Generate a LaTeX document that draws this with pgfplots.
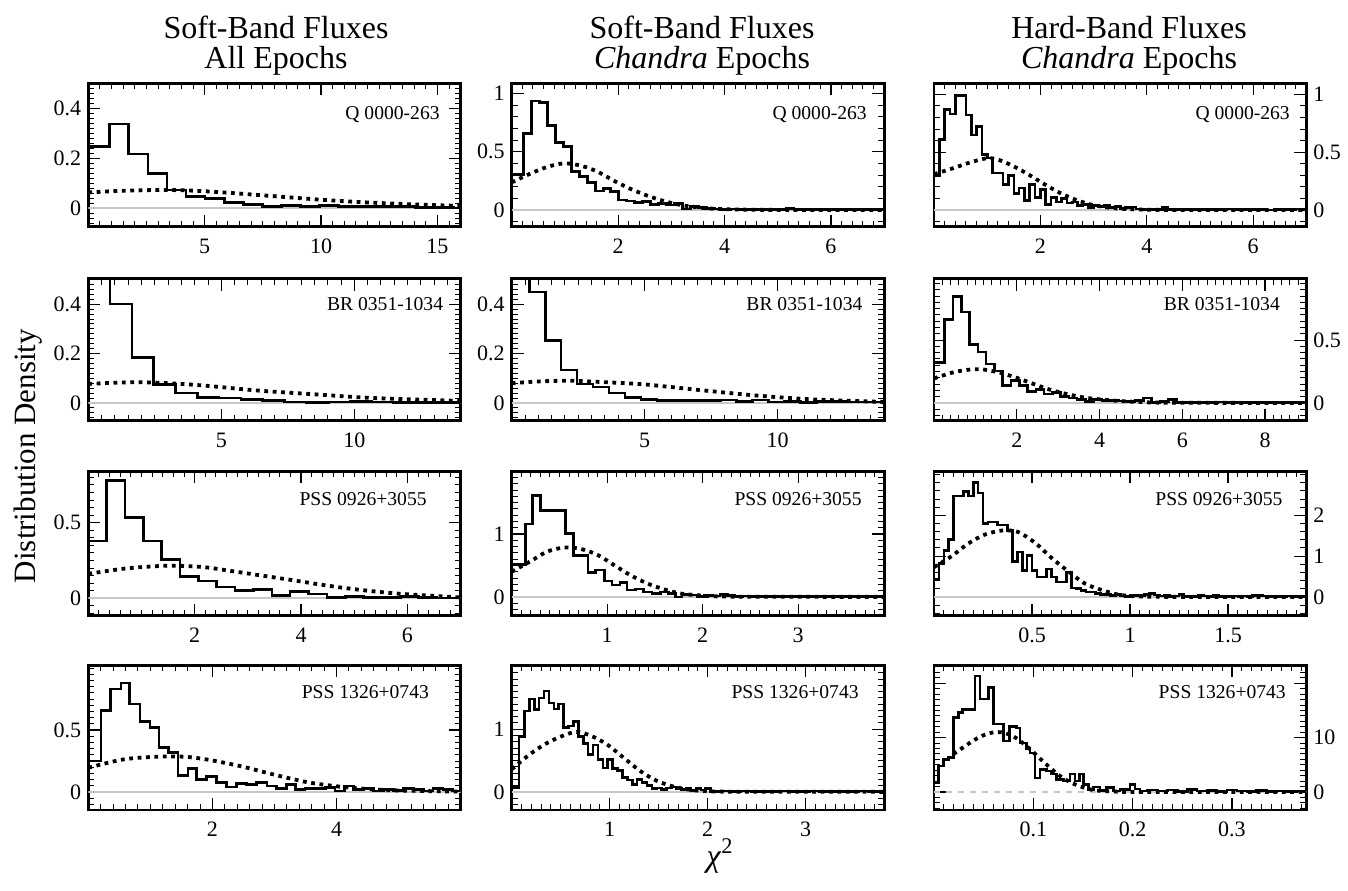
\documentclass[border=0pt]{standalone}
\usepackage{fontspec}
\setmainfont{Liberation Serif}
\usepackage{pgfplots}
\pgfplotsset{compat=1.18}
\pgfplotsset{
  panel/.style={scale only axis, width=186.2pt, anchor=north west,
    tick align=inside, major tick length=6pt, minor tick length=3pt,
    xtick pos=both, ytick pos=both,
    axis line style={line width=1.4pt},
    every tick/.style={black, line width=0.6pt},
    every minor tick/.style={black, line width=0.5pt},
    /pgf/number format/assume math mode=true,
    /pgf/number format/fixed,
    ticklabel style={font=\fontsize{11}{12}\selectfont},
    xticklabel style={yshift=-2.5pt},
  },
  hist/.style={const plot, black, line width=1.3pt, line join=miter, mark=none},
  model/.style={black, line width=1.9pt, dash pattern=on 1.9pt off 2.3pt, smooth, mark=none},
  zero/.style={black!22, line width=1pt, mark=none},
}
\tikzset{lab/.style={font=\fontsize{9.8}{11}\selectfont}}
\begin{document}
\begin{tikzpicture}
\useasboundingbox (0pt,0pt) rectangle (674pt,-445pt);
\def\tfont{\fontsize{16}{18}\selectfont}
\tikzset{ttl/.style={font=\tfont, anchor=base, inner sep=0pt}}
\node[ttl] at (138pt,-19pt) {Soft-Band Fluxes};
\node[ttl] at (138pt,-34pt) {All Epochs};
\node[ttl] at (351pt,-19pt) {Soft-Band Fluxes};
\node[ttl] at (351pt,-34pt) {\textit{Chandra} Epochs};
\node[ttl] at (564.5pt,-19pt) {Hard-Band Fluxes};
\node[ttl] at (564.5pt,-34pt) {\textit{Chandra} Epochs};
\node[font=\fontsize{15.5}{17}\selectfont, rotate=90, inner sep=0pt] at (14pt,-228pt) {Distribution Density};
\node[font=\tfont, inner sep=0pt] at (360pt,-428pt) {\textit{χ}\textsuperscript{2}};

% ---------------- Row 1 ----------------
\begin{axis}[panel, at={(44.15pt,-41.65pt)}, height=71.7pt,
  xmin=0, xmax=16, ymin=-0.074, ymax=0.5,
  xtick={0,5,10,15}, xticklabels={,5,10,15}, minor xtick={0,0.5,...,16},
  ytick={0,0.2,0.4}, minor ytick={-0.06,-0.04,...,0.5}]
\addplot[zero] coordinates {(0,0) (16,0)};
\addplot[hist] coordinates {(0,0.247) (0.92,0.337) (1.74,0.217) (2.56,0.14) (3.38,0.073) (4.2,0.047) (5.02,0.04) (5.84,0.022) (6.66,0.016) (7.48,0.007) (8.3,0.011) (9.12,0.008) (9.94,0.01) (10.76,0.007) (11.58,0.008) (12.4,0.006) (13.22,0.006) (14.04,0.004) (14.86,0.003) (15.68,0.001) (16,0.001)};
\addplot[model] coordinates {(0,0.063) (1,0.068) (2,0.071) (3,0.073) (4,0.072) (5,0.068) (6,0.062) (7,0.055) (8,0.048) (9,0.041) (10,0.034) (11,0.028) (12,0.023) (13,0.019) (14,0.015) (15,0.012) (16,0.009)};
\node[lab] at (rel axis cs:0.817,0.784) {Q 0000-263};
\end{axis}

\begin{axis}[panel, at={(255.85pt,-41.65pt)}, height=71.7pt,
  xmin=0, xmax=7, ymin=-0.143, ymax=1.086,
  xtick={0,2,4,6}, xticklabels={,2,4,6}, minor xtick={0,0.2,...,7},
  ytick={0,0.5,1}, minor ytick={-0.1,0,...,1.1}]
\addplot[zero] coordinates {(0,0) (7,0)};
\addplot[hist] coordinates {(0,0.306) (0.22,0.657) (0.37,0.934) (0.52,0.92) (0.67,0.723) (0.82,0.577) (0.97,0.543) (1.12,0.329) (1.27,0.286) (1.42,0.237) (1.57,0.163) (1.72,0.186) (1.86,0.157) (2.01,0.086) (2.16,0.077) (2.31,0.066) (2.46,0.071) (2.61,0.049) (2.76,0.057) (2.91,0.043) (3.06,0.057) (3.21,0.009) (3.36,0.029) (3.51,0.02) (3.66,0.014) (3.81,0.01) (3.96,0.006) (4.11,0.008) (4.26,0.005) (4.41,0.004) (4.56,0.007) (4.71,0.003) (4.86,0.004) (5.01,0.006) (5.16,0.011) (5.31,0.004) (5.46,0.003) (5.61,0.005) (5.76,0.002) (5.91,0.004) (6.06,0.003) (6.21,0.005) (6.36,0.002) (6.51,0.003) (6.66,0.004) (6.81,0.002) (7,0.002)};
\addplot[model] coordinates {(0,0.237) (0.36,0.314) (0.68,0.371) (0.99,0.40) (1.3,0.38) (1.61,0.329) (1.93,0.249) (2.24,0.18) (2.55,0.123) (2.86,0.077) (3.18,0.043) (3.49,0.023) (3.8,0.011) (4.42,0.003) (5,0.001) (7,0)};
\node[lab] at (rel axis cs:0.827,0.784) {Q 0000-263};
\end{axis}

\begin{axis}[panel, at={(467pt,-41.65pt)}, height=71.7pt, yticklabel pos=right,
  xmin=0, xmax=7, ymin=-0.144, ymax=1.095,
  xtick={0,2,4,6}, xticklabels={,2,4,6}, minor xtick={0,0.2,...,7},
  ytick={0,0.5,1}, minor ytick={-0.1,0,...,1.1}]
\addplot[zero] coordinates {(0,0) (7,0)};
\addplot[hist] coordinates {(0,0.30) (0.1,0.61) (0.2,0.87) (0.3,0.83) (0.4,0.99) (0.5,0.99) (0.6,0.82) (0.7,0.65) (0.8,0.72) (0.9,0.48) (1.0,0.45) (1.1,0.32) (1.2,0.32) (1.3,0.22) (1.4,0.30) (1.5,0.145) (1.6,0.19) (1.7,0.08) (1.8,0.22) (1.9,0.11) (2.0,0.18) (2.1,0.05) (2.2,0.11) (2.3,0.07) (2.4,0.10) (2.5,0.06) (2.6,0.07) (2.7,0.04) (2.8,0.05) (2.9,0.02) (3.0,0.04) (3.1,0.03) (3.2,0.04) (3.3,0.02) (3.4,0.03) (3.5,0.01) (3.6,0.02) (3.7,0.025) (3.8,0.01) (3.9,0.005) (4.0,0.004) (4.1,0.006) (4.2,0.003) (4.3,0.02) (4.4,0.004) (4.6,0.006) (4.8,0.003) (5.0,0.005) (5.2,0.003) (5.4,0.004) (5.5,0.01) (5.6,0.004) (5.8,0.003) (6.0,0.005) (6.2,0.002) (6.4,0.004) (6.6,0.003) (6.8,0.01) (6.9,0.003) (7,0.003)};
\addplot[model] coordinates {(0,0.31) (0.35,0.36) (0.67,0.41) (0.98,0.447) (1.17,0.44) (1.42,0.395) (1.74,0.317) (2.05,0.23) (2.36,0.15) (2.68,0.086) (2.99,0.043) (3.3,0.02) (3.6,0.009) (4.1,0.002) (5,0) (7,0)};
\node[lab] at (rel axis cs:0.829,0.784) {Q 0000-263};
\end{axis}

% ---------------- Row 2 ----------------
\begin{axis}[panel, at={(44.15pt,-139.25pt)}, height=71.1pt,
  xmin=0, xmax=14, ymin=-0.072, ymax=0.504,
  xtick={0,5,10}, xticklabels={,5,10}, minor xtick={0,0.5,...,14},
  ytick={0,0.2,0.4}, minor ytick={-0.06,-0.04,...,0.5}]
\addplot[zero] coordinates {(0,0) (14,0)};
\addplot[hist] coordinates {(0,0.8) (0.82,0.40) (1.64,0.184) (2.46,0.075) (3.28,0.04) (4.1,0.022) (4.92,0.02) (5.74,0.015) (6.56,0.01) (7.38,0.004) (8.2,0.003) (9.02,0.004) (9.84,0.006) (10.66,0.004) (11.48,0.002) (12.3,0.002) (13.12,0.003) (14,0.003)};
\addplot[model] coordinates {(0,0.077) (1,0.082) (1.9,0.084) (3,0.08) (4.4,0.07) (6.4,0.05) (8.5,0.035) (10.5,0.021) (12.6,0.013) (14,0.008)};
\node[lab] at (rel axis cs:0.797,0.823) {BR 0351-1034};
\end{axis}

\begin{axis}[panel, at={(255.85pt,-139.25pt)}, height=71.1pt,
  xmin=0, xmax=14, ymin=-0.072, ymax=0.504,
  xtick={0,5,10}, xticklabels={,5,10}, minor xtick={0,0.5,...,14},
  ytick={0,0.2,0.4}, minor ytick={-0.06,-0.04,...,0.5}]
\addplot[zero] coordinates {(0,0) (14,0)};
\addplot[hist] coordinates {(0,0.8) (0.66,0.45) (1.26,0.253) (1.86,0.133) (2.46,0.077) (3.06,0.065) (3.66,0.04) (4.26,0.021) (4.86,0.013) (5.46,0.01) (6.06,0.009) (6.66,0.01) (7.26,0.011) (7.86,0.012) (8.46,0.005) (9.06,0.012) (9.66,0.004) (10.26,0.006) (10.86,0.002) (11.46,0.006) (12.06,0.007) (12.66,0.004) (13.26,0.004) (14,0.004)};
\addplot[model] coordinates {(0,0.08) (1,0.087) (2.2,0.09) (3.5,0.084) (5,0.075) (7,0.053) (9.1,0.031) (11.2,0.015) (14,0.004)};
\node[lab] at (rel axis cs:0.786,0.823) {BR 0351-1034};
\end{axis}

\begin{axis}[panel, at={(467pt,-139.25pt)}, height=71.1pt, yticklabel pos=right,
  xmin=0, xmax=9, ymin=-0.141, ymax=0.99,
  xtick={0,2,4,6,8}, xticklabels={,2,4,6,8}, minor xtick={0,0.2,...,9},
  ytick={0,0.5}, minor ytick={-0.1,-0.05,...,0.95}]
\addplot[zero] coordinates {(0,0) (9,0)};
\addplot[hist] coordinates {(0,0.324) (0.26,0.665) (0.46,0.846) (0.66,0.723) (0.86,0.465) (1.06,0.404) (1.26,0.311) (1.46,0.253) (1.66,0.141) (1.86,0.178) (2.06,0.141) (2.26,0.093) (2.46,0.106) (2.66,0.072) (2.86,0.085) (3.06,0.053) (3.26,0.04) (3.46,0.027) (3.66,0.013) (3.86,0.027) (4.06,0.02) (4.26,0.02) (4.46,0.016) (4.66,0.013) (4.86,0.02) (5.06,0.04) (5.26,0.005) (5.46,0.01) (5.66,0.03) (5.86,0.004) (6.06,0.003) (6.26,0.004) (6.46,0.003) (6.66,0.004) (6.86,0.008) (7.06,0.003) (7.26,0.004) (7.46,0.002) (7.66,0.003) (7.86,0.002) (8.06,0.003) (8.26,0.002) (8.46,0.003) (8.66,0.002) (9,0.002)};
\addplot[model] coordinates {(0,0.195) (0.48,0.245) (0.88,0.266) (1.2,0.266) (1.6,0.24) (2.0,0.2) (2.4,0.152) (2.8,0.106) (3.2,0.072) (3.6,0.045) (4.0,0.029) (4.48,0.016) (4.96,0.008) (5.7,0.002) (9,0)};
\node[lab] at (rel axis cs:0.773,0.823) {BR 0351-1034};
\end{axis}

% ---------------- Row 3 ----------------
\begin{axis}[panel, at={(44.15pt,-235.65pt)}, height=72.2pt,
  xmin=0, xmax=7, ymin=-0.115, ymax=0.84,
  xtick={0,2,4,6}, xticklabels={,2,4,6}, minor xtick={0,0.2,...,7},
  ytick={0,0.5}, minor ytick={-0.1,-0.05,...,0.85}]
\addplot[zero] coordinates {(0,0) (7,0)};
\addplot[hist] coordinates {(0,0.379) (0.345,0.779) (0.69,0.535) (1.035,0.379) (1.38,0.255) (1.725,0.143) (2.07,0.115) (2.415,0.076) (2.76,0.05) (3.105,0.06) (3.45,0.017) (3.795,0.045) (4.14,0.028) (4.485,0.006) (4.83,0.011) (5.175,0.004) (5.52,0.006) (5.865,0.011) (6.21,0.006) (6.555,0.002) (7,0.002)};
\addplot[model] coordinates {(0,0.162) (0.64,0.195) (1.15,0.21) (1.6,0.216) (2.18,0.206) (2.7,0.18) (3.73,0.126) (4.76,0.071) (5.79,0.032) (7,0.006)};
\node[lab] at (rel axis cs:0.738,0.81) {PSS 0926+3055};
\end{axis}

\begin{axis}[panel, at={(255.85pt,-235.65pt)}, height=72.2pt,
  xmin=0, xmax=3.9, ymin=-0.30, ymax=2.0,
  xtick={0,1,2,3}, xticklabels={,1,2,3}, minor xtick={0,0.1,...,3.9},
  ytick={0,1}, minor ytick={-0.2,-0.1,...,2}]
\addplot[zero] coordinates {(0,0) (3.9,0)};
\addplot[hist] coordinates {(0,0.52) (0.147,1.16) (0.217,1.61) (0.304,1.38) (0.565,1.01) (0.645,0.658) (0.798,0.39) (0.878,0.428) (0.972,0.25) (1.052,0.187) (1.132,0.23) (1.208,0.107) (1.295,0.123) (1.382,0.08) (1.47,0.053) (1.556,0.08) (1.643,0.053) (1.713,0.0) (1.782,0.037) (1.87,0.027) (1.939,0.01) (2.02,0.02) (2.1,0.015) (2.18,0.037) (2.26,0.02) (2.34,0.01) (2.42,0.015) (2.5,0.005) (2.6,0.01) (2.7,0.004) (2.8,0.008) (2.9,0.003) (3.0,0.006) (3.1,0.004) (3.2,0.008) (3.3,0.003) (3.4,0.005) (3.5,0.003) (3.6,0.006) (3.7,0.003) (3.8,0.01) (3.9,0.01)};
\addplot[model] coordinates {(0,0.4) (0.2,0.57) (0.37,0.72) (0.55,0.786) (0.72,0.765) (0.9,0.668) (1.07,0.508) (1.24,0.348) (1.42,0.214) (1.59,0.123) (1.77,0.053) (1.94,0.027) (2.11,0.01) (2.46,0.002) (3.9,0)};
\node[lab] at (rel axis cs:0.769,0.81) {PSS 0926+3055};
\end{axis}

\begin{axis}[panel, at={(467pt,-235.65pt)}, height=72.2pt, yticklabel pos=right,
  xmin=0, xmax=1.9, ymin=-0.46, ymax=3.08,
  xtick={0,0.5,1,1.5}, xticklabels={,0.5,1,1.5}, minor xtick={0,0.05,...,1.9},
  ytick={0,1,2}, minor ytick={-0.4,-0.2,...,3}]
\addplot[zero] coordinates {(0,0) (1.9,0)};
\addplot[hist] coordinates {(0,0.43) (0.025,0.82) (0.05,1.14) (0.075,1.41) (0.1,2.47) (0.125,2.47) (0.15,2.59) (0.175,2.47) (0.2,2.8) (0.225,2.55) (0.25,1.8) (0.275,1.84) (0.3,1.84) (0.325,1.76) (0.35,1.76) (0.375,1.63) (0.4,0.87) (0.425,1.1) (0.45,0.65) (0.475,1.02) (0.5,0.65) (0.525,0.49) (0.55,0.49) (0.575,0.69) (0.6,0.49) (0.625,0.37) (0.65,0.37) (0.675,0.61) (0.7,0.22) (0.725,0.2) (0.75,0.16) (0.775,0.12) (0.8,0.12) (0.825,0.08) (0.85,0.06) (0.875,0.06) (0.9,0.04) (0.925,0.06) (0.95,0.02) (0.975,0.01) (1.0,0.05) (1.025,0.03) (1.05,0.04) (1.075,0.06) (1.1,0.08) (1.125,0.05) (1.15,0.02) (1.175,0.03) (1.2,0.01) (1.225,0.02) (1.25,0.06) (1.275,0.01) (1.3,0.02) (1.325,0.01) (1.35,0.03) (1.375,0.02) (1.4,0.01) (1.425,0.05) (1.45,0.01) (1.475,0.02) (1.5,0.01) (1.525,0.02) (1.55,0.01) (1.575,0.02) (1.6,0.01) (1.625,0.03) (1.65,0.04) (1.675,0.02) (1.7,0.01) (1.725,0.02) (1.75,0.01) (1.775,0.01) (1.8,0.02) (1.825,0.01) (1.85,0.01) (1.9,0.01)};
\addplot[model] coordinates {(0,0.73) (0.09,1.0) (0.175,1.31) (0.26,1.53) (0.35,1.63) (0.43,1.59) (0.52,1.31) (0.6,0.955) (0.69,0.61) (0.77,0.327) (0.86,0.163) (0.94,0.057) (1.03,0.016) (1.2,0.002) (1.9,0)};
\node[lab] at (rel axis cs:0.765,0.81) {PSS 0926+3055};
\end{axis}

% ---------------- Row 4 ----------------
\begin{axis}[panel, at={(44.15pt,-332.65pt)}, height=72.35pt,
  xmin=0, xmax=6, ymin=-0.145, ymax=1.022,
  xtick={0,2,4,6}, xticklabels={,2,4,}, minor xtick={0,0.2,...,6},
  ytick={0,0.5}, minor ytick={-0.1,-0.05,...,1}]
\addplot[zero] coordinates {(0,0) (6,0)};
\addplot[hist] coordinates {(0,0.25) (0.203,0.66) (0.361,0.83) (0.528,0.88) (0.668,0.71) (0.835,0.57) (0.993,0.52) (1.141,0.36) (1.29,0.32) (1.448,0.134) (1.606,0.188) (1.745,0.102) (1.903,0.124) (2.07,0.075) (2.228,0.04) (2.386,0.067) (2.553,0.062) (2.711,0.075) (2.879,0.048) (3.036,0.027) (3.194,0.062) (3.334,0.021) (3.492,0.027) (3.65,0.03) (3.817,0.035) (3.975,0.008) (4.123,0.048) (4.272,0.021) (4.43,0.027) (4.597,0.008) (4.755,0.021) (4.913,0.013) (5.08,0.027) (5.238,0.021) (5.396,0.008) (5.554,0.027) (5.712,0.021) (5.87,0.008) (6,0.008)};
\addplot[model] coordinates {(0,0.196) (0.565,0.263) (1.104,0.285) (1.532,0.285) (1.903,0.263) (2.442,0.21) (2.981,0.142) (3.52,0.08) (4.058,0.043) (4.588,0.021) (5.127,0.011) (6,0.003)};
\node[lab] at (rel axis cs:0.744,0.815) {PSS 1326+0743};
\end{axis}

\begin{axis}[panel, at={(255.85pt,-332.65pt)}, height=72.35pt,
  xmin=0, xmax=3.8, ymin=-0.29, ymax=2.02,
  xtick={0,1,2,3}, xticklabels={,1,2,3}, minor xtick={0,0.1,...,3.8},
  ytick={0,1}, minor ytick={-0.2,-0.1,...,2}]
\addplot[zero] coordinates {(0,0) (3.8,0)};
\addplot[hist] coordinates {(0,0.07) (0.076,0.88) (0.13,1.29) (0.18,1.48) (0.23,1.31) (0.28,1.5) (0.33,1.61) (0.38,1.42) (0.43,1.32) (0.48,1.40) (0.53,1.03) (0.58,1.05) (0.63,1.12) (0.68,0.88) (0.73,0.77) (0.78,0.60) (0.83,0.75) (0.88,0.52) (0.93,0.38) (0.98,0.52) (1.03,0.37) (1.08,0.34) (1.13,0.23) (1.18,0.19) (1.23,0.12) (1.28,0.20) (1.33,0.15) (1.38,0.10) (1.43,0.05) (1.48,0.06) (1.53,0.04) (1.58,0.06) (1.63,0.08) (1.68,0.05) (1.73,0.04) (1.78,0.06) (1.83,0.02) (1.88,0.05) (1.93,0.03) (1.98,0.05) (2.03,0.01) (2.14,0.015) (2.24,0.005) (2.34,0.012) (2.44,0.004) (2.54,0.01) (2.64,0.006) (2.74,0.012) (2.84,0.004) (2.94,0.008) (3.04,0.015) (3.14,0.005) (3.24,0.006) (3.34,0.01) (3.44,0.004) (3.54,0.012) (3.64,0.005) (3.8,0.005)};
\addplot[model] coordinates {(0,0.36) (0.185,0.6) (0.357,0.777) (0.53,0.9) (0.66,0.957) (0.8,0.9) (0.97,0.76) (1.14,0.548) (1.31,0.335) (1.48,0.176) (1.66,0.08) (1.83,0.032) (2.0,0.01) (2.34,0.002) (3.8,0)};
\node[lab] at (rel axis cs:0.761,0.815) {PSS 1326+0743};
\end{axis}

\begin{axis}[panel, at={(467pt,-332.65pt)}, height=72.35pt, yticklabel pos=right,
  xmin=0, xmax=0.375, ymin=-3.3, ymax=23.3,
  xtick={0,0.1,0.2,0.3}, xticklabels={,0.1,0.2,0.3}, minor xtick={0,0.01,...,0.37},
  ytick={0,10,20}, yticklabels={0,10,}, minor ytick={-3,-2,...,23}]
\addplot[zero, dashed] coordinates {(0,0) (0.375,0)};
\addplot[hist] coordinates {(0,1.7) (0.0044,4.8) (0.0094,6.0) (0.0144,6.3) (0.0195,13.7) (0.0245,14.6) (0.0288,15.2) (0.0413,21.3) (0.0463,17.1) (0.0547,19.2) (0.0597,12.5) (0.0698,9.4) (0.0758,12.1) (0.0832,11.8) (0.0865,9.0) (0.0933,7.9) (0.0966,7.2) (0.1016,2.6) (0.1067,4.2) (0.1134,3.9) (0.1184,3.3) (0.1235,2.3) (0.1302,2.0) (0.1369,3.3) (0.1419,2.0) (0.1463,3.3) (0.1503,1.4) (0.1553,0.5) (0.1603,0.9) (0.1671,0.3) (0.1738,0.8) (0.1805,0.2) (0.1872,0.5) (0.1972,1.4) (0.2023,0.6) (0.2073,0.2) (0.215,0.4) (0.225,0.2) (0.235,0.4) (0.245,0.1) (0.255,0.5) (0.265,0.2) (0.275,0.3) (0.285,0.1) (0.295,0.4) (0.305,0.2) (0.315,0.1) (0.325,0.3) (0.335,0.1) (0.345,0.2) (0.355,0.1) (0.365,0.2) (0.375,0.2)};
\addplot[model] coordinates {(0.0195,7.0) (0.0309,8.4) (0.0408,9.6) (0.0507,10.5) (0.0606,11.0) (0.0704,10.9) (0.0803,10.2) (0.0902,8.9) (0.1001,7.3) (0.11,5.6) (0.1198,4.0) (0.1297,2.6) (0.1396,1.6) (0.1495,0.9) (0.1594,0.4) (0.1693,0.2) (0.189,0.05) (0.209,0) (0.375,0)};
\node[lab] at (rel axis cs:0.774,0.815) {PSS 1326+0743};
\end{axis}
\end{tikzpicture}
\end{document}
